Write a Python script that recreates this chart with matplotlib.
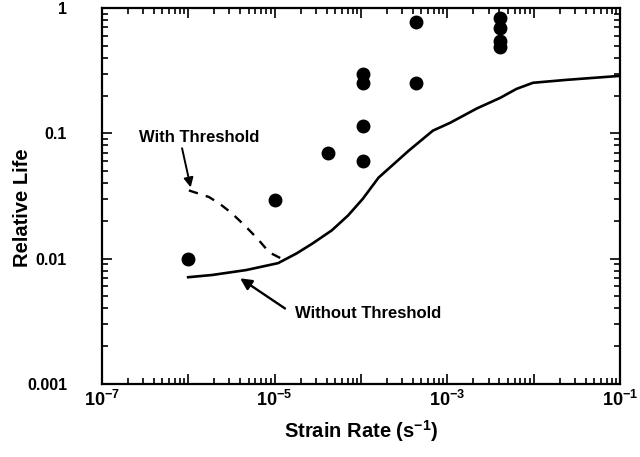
import numpy as np
import matplotlib.pyplot as plt
from matplotlib.ticker import LogLocator, NullFormatter, FixedLocator, FixedFormatter

# measured points
rate_pts = [1e-6, 1e-5, 4.2e-5, 1.05e-4, 1.05e-4, 1.05e-4, 1.05e-4, 4.3e-4, 4.3e-4,
            4.1e-3, 4.1e-3, 4.1e-3, 4.1e-3]
life_pts = [0.010, 0.0296, 0.070, 0.060, 0.115, 0.25, 0.30, 0.25, 0.77,
            0.83, 0.69, 0.55, 0.49]

# model without threshold
rate_no = [1e-6, 1.9e-6, 4.7e-6, 1.1e-5, 1.8e-5, 2.75e-5, 4.6e-5, 7.1e-5, 1.05e-4,
           1.6e-4, 3.6e-4, 6.8e-4, 1.07e-3, 2.2e-3, 4.1e-3, 6.3e-3, 9.8e-3,
           2.4e-2, 9.8e-2]
life_no = [0.0071, 0.0074, 0.0081, 0.0092, 0.011, 0.0132, 0.0168, 0.0221, 0.030,
           0.0443, 0.073, 0.105, 0.121, 0.158, 0.192, 0.226, 0.253,
           0.267, 0.287]

# model with threshold
rate_th = [1.02e-6, 1.74e-6, 2.3e-6, 3.2e-6, 4.5e-6, 6.3e-6, 8.7e-6, 1.2e-5]
life_th = [0.035, 0.031, 0.0275, 0.023, 0.0184, 0.0145, 0.0112, 0.0100]

plt.rcParams['font.family'] = ['Liberation Sans', 'DejaVu Sans']
plt.rcParams['font.weight'] = 'bold'
plt.rcParams['mathtext.fontset'] = 'custom'
plt.rcParams['mathtext.rm'] = 'Liberation Sans:bold'
plt.rcParams['mathtext.bf'] = 'Liberation Sans:bold'
plt.rcParams['mathtext.default'] = 'bf'

fig = plt.figure(figsize=(6.4, 4.57), dpi=100)
ax = fig.add_axes([0.159, 0.16, 0.81, 0.8225])

ax.plot(rate_no, life_no, color='black', lw=1.9)
ax.plot(rate_th, life_th, color='black', lw=1.7, ls=(0, (4, 3.5)))
ax.plot(rate_pts, life_pts, 'o', color='black', ms=9)

ax.set_xscale('log')
ax.set_yscale('log')
ax.set_xlim(1e-7, 1e-1)
ax.set_ylim(1e-3, 1)

ax.xaxis.set_major_locator(FixedLocator([1e-7, 1e-6, 1e-5, 1e-4, 1e-3, 1e-2, 1e-1]))
ax.xaxis.set_major_formatter(FixedFormatter([r'$10^{-7}$', '', r'$10^{-5}$', '',
                                             r'$10^{-3}$', '', r'$10^{-1}$']))
ax.xaxis.set_minor_locator(LogLocator(base=10, subs=np.arange(2, 10), numticks=20))
ax.xaxis.set_minor_formatter(NullFormatter())

ax.yaxis.set_major_locator(FixedLocator([1e-3, 1e-2, 1e-1, 1]))
ax.yaxis.set_major_formatter(FixedFormatter(['0.001', '0.01', '0.1', '1']))
ax.yaxis.set_minor_locator(LogLocator(base=10, subs=np.arange(2, 10), numticks=20))
ax.yaxis.set_minor_formatter(NullFormatter())

ax.tick_params(which='both', direction='in', top=True, right=True, width=1.2)
ax.tick_params(which='major', length=7)
ax.tick_params(which='minor', length=4)
ax.tick_params(axis='x', which='major', labelsize=13, pad=4)
ax.tick_params(axis='y', which='major', labelsize=11.5, pad=25)
for s in ax.spines.values():
    s.set_linewidth(1.6)

ax.set_xlabel(r'Strain Rate (s$^{-1}$)', fontsize=14.5, fontweight='bold', labelpad=6)
ax.set_ylabel('Relative Life', fontsize=14.5, fontweight='bold')
ax.yaxis.set_label_coords(-0.135, 0.47)

ax.text(1.33e-6, 0.092, 'With Threshold', fontsize=12, fontweight='bold',
        ha='center', va='center')
ax.annotate('', xy=(1.07e-6, 0.037), xytext=(8.5e-7, 0.076),
            arrowprops=dict(arrowstyle='-|>', color='black', lw=1.4,
                            shrinkA=0, shrinkB=0, mutation_scale=14))
ax.text(1.22e-4, 0.00366, 'Without Threshold', fontsize=12, fontweight='bold',
        ha='center', va='center')
ax.annotate('', xy=(4.0e-6, 0.00696), xytext=(1.32e-5, 0.0040),
            arrowprops=dict(arrowstyle='-|>', color='black', lw=1.7,
                            shrinkA=0, shrinkB=0, mutation_scale=17))

fig.savefig('out.png', dpi=100)
